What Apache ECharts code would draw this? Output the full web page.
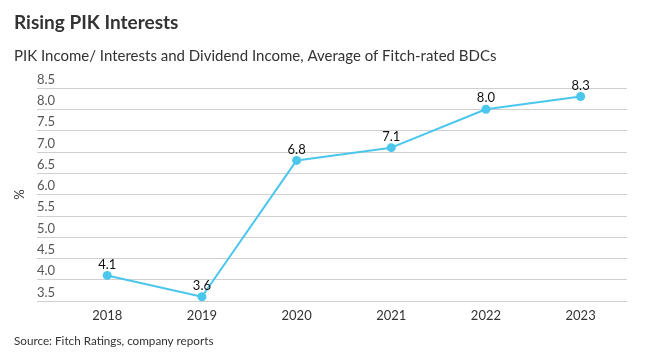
<!DOCTYPE html>
<html><head><meta charset="utf-8">
<script src="https://cdn.jsdelivr.net/npm/echarts@6/dist/echarts.min.js"></script>
<style>html,body{margin:0;padding:0;background:#fff}#c{width:648px;height:352px}</style>
</head><body><div id="c"></div>
<script>
const categories = ['2018','2019','2020','2021','2022','2023'];
const values = [4.1, 3.6, 6.8, 7.1, 8.0, 8.3];
const yTicks = [3.5, 4.0, 4.5, 5.0, 5.5, 6.0, 6.5, 7.0, 7.5, 8.0, 8.5];
const titleText = 'Rising PIK Interests';
const subtitleText = 'PIK Income/ Interests and Dividend Income, Average of Fitch-rated BDCs';
const sourceText = 'Source: Fitch Ratings, company reports';
const yName = '%';

const years = categories.map(Number);
const chart = echarts.init(document.getElementById('c'));
const F = 'Lato';
chart.setOption({
  backgroundColor: '#fff',
  animation: false,
  textStyle: { fontFamily: F },
  title: [
    { text: titleText, left: 9, top: 8, textStyle: { fontFamily: F, fontSize: 19, fontWeight: 'bold', color: '#333' } },
    { text: subtitleText, left: 9, top: 44, textStyle: { fontFamily: F, fontSize: 15, fontWeight: 'normal', color: '#333' } },
    { text: sourceText, left: 9, top: 330, textStyle: { fontFamily: F, fontSize: 11.7, fontWeight: 'normal', color: '#333' } }
  ],
  grid: { left: 37, right: 21, top: 88, bottom: 51 },
  xAxis: {
    type: 'value',
    min: years[0] - 0.742,
    max: years[years.length - 1] + 0.49,
    axisLine: { show: false },
    axisTick: { show: false },
    splitLine: { show: false },
    axisLabel: { customValues: years, formatter: v => String(v), color: '#333', fontSize: 13, margin: 8 }
  },
  yAxis: {
    type: 'value',
    min: yTicks[0], max: yTicks[yTicks.length - 1], interval: 0.5,
    name: yName, nameLocation: 'middle', nameGap: 8, nameRotate: 90,
    nameTextStyle: { color: '#333', fontSize: 13, padding: [0, 0, 0, 0], verticalAlign: 'top' },
    axisLine: { show: false },
    axisTick: { show: false },
    splitLine: { lineStyle: { color: '#d0d0d0', width: 1 } },
    axisLabel: { inside: true, margin: 0, verticalAlign: 'bottom', color: '#555', fontSize: 13, formatter: v => v.toFixed(1), padding: [0,0,2,0] }
  },
  series: [{
    type: 'line',
    data: years.map((y, i) => [y, values[i]]),
    symbol: 'circle', symbolSize: 9,
    lineStyle: { color: '#4BC6EC', width: 2 },
    itemStyle: { color: '#4BC6EC' },
    label: { show: true, position: 'top', distance: 0, color: '#111', fontSize: 13, formatter: p => p.value[1].toFixed(1) }
  }]
});
</script></body></html>
